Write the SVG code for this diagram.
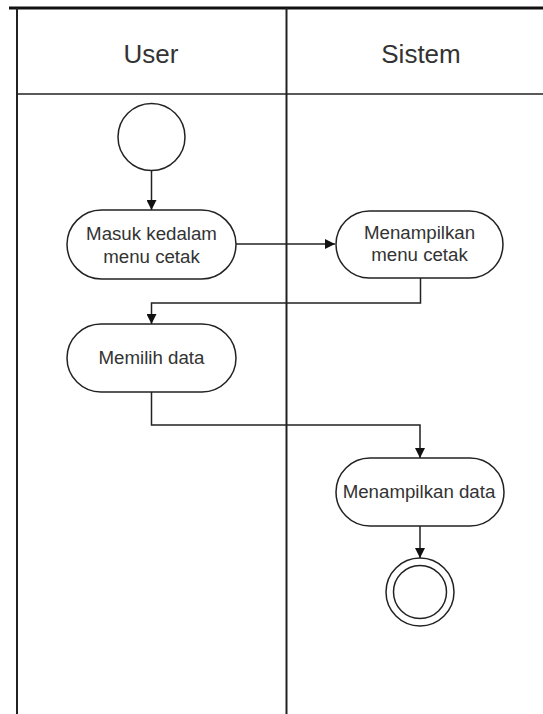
<svg xmlns="http://www.w3.org/2000/svg" width="543" height="714" viewBox="0 0 543 714">
<style>
.lane{stroke:#222;stroke-width:2;fill:none}
.act{fill:#fff;stroke:#222;stroke-width:1.5}
.t{font-family:"Liberation Sans",Arial,sans-serif;font-size:18.7px;fill:#333;text-anchor:middle}
.h{font-family:"Liberation Sans",Arial,sans-serif;font-size:26px;fill:#333;text-anchor:middle}
.c{stroke:#222;stroke-width:1.5;fill:none;marker-end:url(#ar)}
</style>
<defs>
<marker id="ar" markerWidth="10" markerHeight="10" refX="10" refY="5" orient="auto" markerUnits="userSpaceOnUse">
<path d="M0,0 L10,5 L0,10 Z" fill="#111"/>
</marker>
</defs>
<rect width="543" height="714" fill="#fff"/>
<g id="lanes">
<line x1="9" y1="8" x2="543" y2="8" stroke="#111" stroke-width="3"/>
<line class="lane" x1="17" y1="8" x2="17" y2="714"/>
<line class="lane" x1="286.5" y1="8" x2="286.5" y2="714"/>
<line x1="17" y1="94" x2="543" y2="94" stroke="#222" stroke-width="1.5"/>
<text class="h" x="151" y="63">User</text>
<text class="h" x="421" y="63">Sistem</text>
</g>
<g id="connectors">
<path class="c" d="M151.5,170 V210"/>
<path class="c" d="M236,244 H335"/>
<path class="c" d="M420.5,278 V303 H151.5 V324"/>
<path class="c" d="M151.5,392 V425 H420 V458"/>
<path class="c" d="M420,526 V558"/>
</g>
<g id="start">
<circle cx="151.5" cy="137" r="33.5" fill="#fff" stroke="#222" stroke-width="1.5"/>
</g>
<g id="masuk">
<rect class="act" x="67" y="210" width="169" height="69" rx="34.5"/>
<text class="t" x="151.5" y="239.5">Masuk kedalam</text>
<text class="t" x="151.5" y="262.5">menu cetak</text>
</g>
<g id="menampilkan-menu">
<rect class="act" x="336" y="211" width="167" height="67" rx="33.5"/>
<text class="t" x="419.5" y="238.5">Menampilkan</text>
<text class="t" x="419.5" y="261">menu cetak</text>
</g>
<g id="memilih">
<rect class="act" x="67" y="324" width="169" height="68" rx="34"/>
<text class="t" x="151.5" y="363.5">Memilih data</text>
</g>
<g id="menampilkan-data">
<rect class="act" x="336" y="458" width="168" height="68" rx="34"/>
<text class="t" x="419" y="497.5">Menampilkan data</text>
</g>
<g id="end">
<circle cx="420" cy="592" r="34" fill="#fff" stroke="#222" stroke-width="1.5"/>
<circle cx="420" cy="592" r="26.5" fill="none" stroke="#222" stroke-width="1.5"/>
</g>
</svg>
